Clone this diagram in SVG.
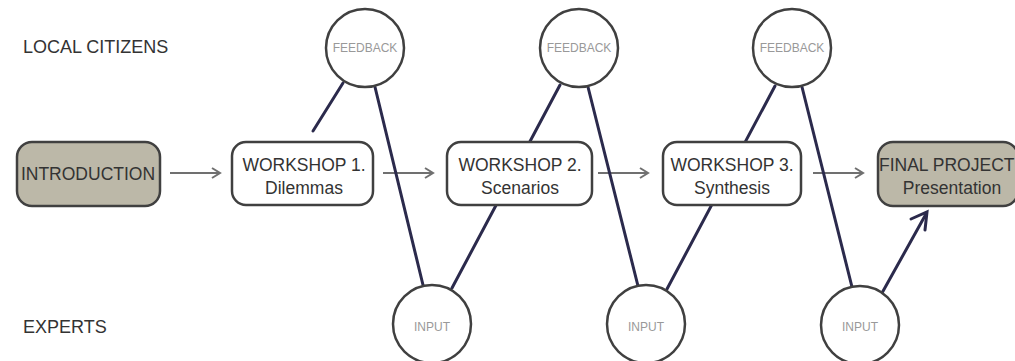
<svg xmlns="http://www.w3.org/2000/svg" width="1015" height="361" viewBox="0 0 1015 361">
<defs>
<style>
.lbl{font-family:"Liberation Sans",Arial,sans-serif;font-size:18px;fill:#333}
.box{fill:#fff;stroke:#404040;stroke-width:2.5}
.dark{fill:#bcb8a8}
.bt{font-family:"Liberation Sans",Arial,sans-serif;font-size:17.5px;fill:#333;text-anchor:middle}
.circ{fill:#fff;stroke:#404040;stroke-width:2.5}
.ct{font-family:"Liberation Sans",Arial,sans-serif;font-size:12px;fill:#999;text-anchor:middle}
.link{stroke:#2b2a4c;stroke-width:3;fill:none;stroke-linecap:round}
.flow{stroke:#707070;stroke-width:2;fill:none}
</style>
<marker id="ah" markerWidth="12" markerHeight="12" refX="10" refY="6" orient="auto" markerUnits="userSpaceOnUse">
<path d="M2,1 L10,6 L2,11" fill="none" stroke="#707070" stroke-width="2"/>
</marker>
</defs>
<rect width="1015" height="361" fill="#fff"/>
<text class="lbl" x="23" y="53">LOCAL CITIZENS</text>
<text class="lbl" x="23" y="333">EXPERTS</text>
<g id="connectors">
<line class="flow" x1="170" y1="173" x2="220" y2="173" marker-end="url(#ah)"/>
<line class="flow" x1="383" y1="173" x2="433" y2="173" marker-end="url(#ah)"/>
<line class="flow" x1="598" y1="173" x2="648" y2="173" marker-end="url(#ah)"/>
<line class="flow" x1="813" y1="173" x2="863" y2="173" marker-end="url(#ah)"/>
<line class="link" x1="343" y1="83" x2="313" y2="131"/>
<line class="link" x1="375" y1="87" x2="423" y2="285"/>
<line class="link" x1="452" y1="288" x2="560" y2="85"/>
<line class="link" x1="588" y1="87" x2="638" y2="286"/>
<line class="link" x1="667" y1="289" x2="775" y2="86"/>
<line class="link" x1="802" y1="87" x2="852" y2="287"/>
<line class="link" x1="882" y1="293" x2="926" y2="214"/>
<path class="link" d="M911,219 L927,212 L925,230" stroke-width="4" stroke-linejoin="miter"/>
</g>
<g id="intro">
<rect class="box dark" x="17" y="142" width="143" height="64" rx="15"/>
<text class="bt" x="88" y="180" font-size="18">INTRODUCTION</text>
</g>
<g id="ws1">
<rect class="box" x="232" y="142" width="141" height="63" rx="14"/>
<text class="bt" x="304" y="171">WORKSHOP 1.</text>
<text class="bt" x="304" y="194">Dilemmas</text>
</g>
<g id="ws2">
<rect class="box" x="447" y="142" width="145" height="63" rx="14"/>
<text class="bt" x="520" y="171">WORKSHOP 2.</text>
<text class="bt" x="520" y="194">Scenarios</text>
</g>
<g id="ws3">
<rect class="box" x="663" y="142" width="138" height="63" rx="14"/>
<text class="bt" x="732" y="171">WORKSHOP 3.</text>
<text class="bt" x="732" y="194">Synthesis</text>
</g>
<g id="final">
<rect class="box dark" x="878" y="142" width="140" height="64" rx="15"/>
<text class="bt" x="879" y="171" style="text-anchor:start">FINAL PROJECT</text>
<text class="bt" x="952" y="194">Presentation</text>
</g>
<g id="fb1"><circle class="circ" cx="365" cy="48" r="39"/><text class="ct" x="365" y="52">FEEDBACK</text></g>
<g id="fb2"><circle class="circ" cx="579" cy="48" r="39"/><text class="ct" x="579" y="52">FEEDBACK</text></g>
<g id="fb3"><circle class="circ" cx="792" cy="48" r="39"/><text class="ct" x="792" y="52">FEEDBACK</text></g>
<g id="in1"><circle class="circ" cx="432" cy="324" r="39"/><text class="ct" x="432" y="331">INPUT</text></g>
<g id="in2"><circle class="circ" cx="646" cy="324" r="39"/><text class="ct" x="646" y="331">INPUT</text></g>
<g id="in3"><circle class="circ" cx="860" cy="325" r="39"/><text class="ct" x="860" y="331">INPUT</text></g>
</svg>
